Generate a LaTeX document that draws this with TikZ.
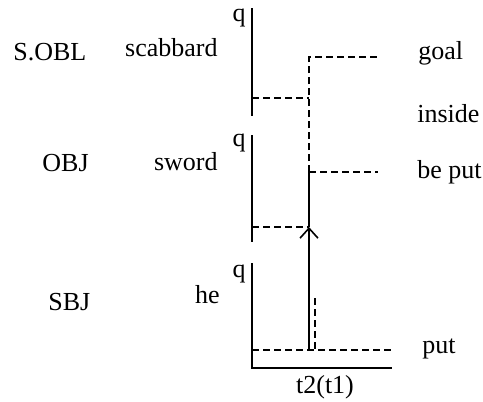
\documentclass[tikz,border=0pt]{standalone}
\usepackage{fontspec}
\setmainfont{Liberation Serif}
\usetikzlibrary{arrows.meta,positioning,calc}

\begin{document}
\begin{tikzpicture}[
  x=0.5pt, y=-0.5pt,
  axis/.style={line width=0.9pt},
  guide/.style={line width=0.8pt, dash pattern=on 3.5pt off 2pt},
  lbl/.style={inner sep=0pt, font=\fontsize{13}{15}\selectfont},
  >={Straight Barb[length=5pt,width=9pt,line width=0.8pt]}
]
  \useasboundingbox (0,0) rectangle (483,402);

  % Axes
  \coordinate (A1t) at (252,8);
  \coordinate (A1b) at (252,116);
  \coordinate (A2t) at (252,135);
  \coordinate (A2b) at (252,242);
  \coordinate (A3t) at (252,263);
  \coordinate (O) at (252,368);
  \coordinate (E) at (392,368);
  \draw[axis] (A1t) -- (A1b);
  \draw[axis] (A2t) -- (A2b);
  \draw[axis] (A3t) -- (O) -- (E);

  % Points on the path
  \coordinate (P1) at (252,98);
  \coordinate (P2) at (309,98);
  \coordinate (G) at (309,57);
  \coordinate (Gr) at (378,57);
  \coordinate (B) at (309,172);
  \coordinate (Br) at (378,172);
  \coordinate (S1) at (252,227);
  \coordinate (S2) at (309,227);
  \coordinate (H1) at (252,350);
  \coordinate (H2) at (309,350);
  \coordinate (Hr) at (393,350);
  \coordinate (T1) at (315,298);
  \coordinate (T2) at (315,350);

  % Transitions
  \draw[guide] (P1) -- (P2);
  \draw[guide] (B) -- (G) -- (Gr);
  \draw[guide] (B) -- (Br);
  \draw[guide] (S1) -- (S2);
  \draw[axis] (B) -- (S2);
  \draw[axis, ->] (H2) -- (S2);
  \draw[guide] (T1) -- (T2);
  \draw[guide] (H1) -- (Hr);

  % Labels
  \node[lbl, anchor=base east] (q1) at (246,21) {q};
  \node[lbl, anchor=base east] (q2) at (246,146) {q};
  \node[lbl, anchor=base east] (q3) at (246,277) {q};

  \node[lbl, anchor=base west] (sobl) at (13,60) {S.OBL};
  \node[lbl, anchor=base west] (obj) at (42,171) {OBJ};
  \node[lbl, anchor=base west] (sbj) at (48,310) {SBJ};

  \node[lbl, anchor=base east] (scab) at (218,56) {scabbard};
  \node[lbl, anchor=base east] (sword) at (218,170) {sword};
  \node[lbl, anchor=base east] (he) at (220,303) {he};

  \node[lbl, anchor=base west] (goal) at (418,59) {goal};
  \node[lbl, anchor=base west] (inside) at (417,122) {inside};
  \node[lbl, anchor=base west] (beput) at (417,178) {be put};
  \node[lbl, anchor=base west] (put) at (422,353) {put};
  \node[lbl, anchor=base] (time) at (325,393) {t2(t1)};

\end{tikzpicture}
\end{document}
